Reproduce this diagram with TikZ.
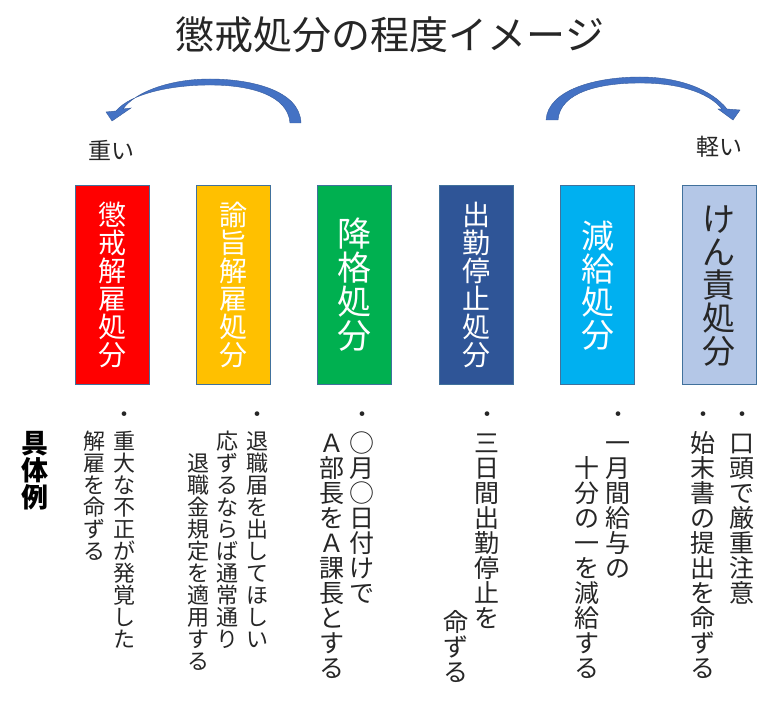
\documentclass[tikz,border=0pt]{standalone}
\usepackage{fontspec}
\setmainfont{Noto Sans CJK JP}
\usetikzlibrary{positioning}
\definecolor{myred}{RGB}{255,0,0}
\definecolor{myyellow}{RGB}{255,192,0}
\definecolor{mygreen}{RGB}{0,176,80}
\definecolor{mybluei}{RGB}{47,85,151}
\definecolor{myblueii}{RGB}{0,176,240}
\definecolor{mylav}{RGB}{180,199,231}
\definecolor{myframe}{RGB}{65,113,156}
\definecolor{myarrow}{RGB}{68,114,196}
\definecolor{mytext}{RGB}{38,38,38}
\makeatletter
\newcommand\tatesp{\hbox{}}
\newcommand\tate[1]{\vbox{\baselineskip=1em\lineskip=0pt\lineskiplimit=-100pt\tate@i#1\relax}}
\def\tate@i#1{\ifx#1\relax\else\hbox to 1em{\hss#1\hss\vrule height .88em depth .12em width 0pt}\expandafter\tate@i\fi}
\makeatother

\begin{document}
\begin{tikzpicture}[x=1pt,y=-1pt,node distance=47.4pt,outer sep=0pt,
		kaib/.style={
		  draw=myframe,
		  line width=1pt,
		  fill=myred,
		  minimum width=74pt,
		  minimum height=198pt,
		  inner sep=0pt,
		  text=white,
		  font=\fontsize{28}{28}\selectfont},
		yusb/.style={kaib,fill=myyellow},
		kokb/.style={kaib,fill=mygreen,font=\fontsize{34}{34}\selectfont},
		shub/.style={kaib,fill=mybluei},
		genb/.style={kaib,fill=myblueii,font=\fontsize{33}{33}\selectfont},
		kenb/.style={kaib,fill=mylav,text=mytext,font=\fontsize{33}{33}\selectfont},
		rei/.style={anchor=north,inner sep=0pt,text=mytext,font=\fontsize{22}{22}\selectfont},
		reil/.style={rei,font=\fontsize{25}{25}\selectfont},
		dot/.style={inner sep=0pt,text=mytext,font=\fontsize{22}{22}\selectfont},
		arr/.style={fill=myarrow,draw=myarrow!80!black,line width=0.4pt},
		]
		\fill[white] (0,0) rectangle (768,703);
		\useasboundingbox (0,0) rectangle (768,703);
		\node[text=mytext,font=\fontsize{39}{39}\selectfont] (Tit) at (390,35) {懲戒処分の程度イメージ};
		% arrows
		\draw[arr] (301,123) .. controls (300,90) and (250,79) .. (210,79)
		  .. controls (170,79) and (135,92) .. (123,109) -- (131,108) -- (112,121) -- (106,112) -- (116,111)
		  .. controls (130,94) and (170,85) .. (210,85)
		  .. controls (250,85) and (288,95) .. (290,123) -- cycle;
		\draw[arr] (546,120) .. controls (548,90) and (595,77) .. (640,77)
		  .. controls (680,77) and (712,90) .. (727,109) -- (740,110) -- (733,120) -- (718,109) -- (722,109)
		  .. controls (708,92) and (678,83) .. (640,83)
		  .. controls (600,83) and (560,92) .. (558,120) -- cycle;
		\node[text=mytext,font=\fontsize{23}{23}\selectfont] (Omo) at (111,150) {重い};
		\node[text=mytext,font=\fontsize{23}{23}\selectfont] (Kar) at (719,147) {軽い};
		% boxes
		\node[kaib] (Kai) at (112,285) {\tate{懲戒解雇処分}};
		\node[yusb,right=of Kai] (Yus) {\tate{諭旨解雇処分}};
		\node[kokb,right=of Yus] (Kok) {\tate{降格処分}};
		\node[shub,right=of Kok] (Shu) {\tate{出勤停止処分}};
		\node[genb,right=of Shu] (Gen) {\tate{減給処分}};
		\node[kenb,right=of Gen] (Ken) {\tate{けん責処分}};
		% examples
		\node[rei,font=\bfseries\fontsize{27}{27}\selectfont,text=black] (Gut) at (35,430) {\tate{具体例}};
		\node[dot] (KaiD) at (124,417) {・};
		\node[rei] (KaiA) at (124,430) {\tate{重大な不正が発覚した}};
		\node[rei] (KaiB) at (94,430) {\tate{解雇を命ずる}};
		\node[dot] (YusD) at (257,417) {・};
		\node[rei] (YusA) at (257,430) {\tate{退職届を出してほしい}};
		\node[rei] (YusB) at (227,430) {\tate{応ずるならば通常通り}};
		\node[rei] (YusC) at (198,430) {\tate{\tatesp 退職金規定を適用する}};
		\node[dot] (KokD) at (362,417) {・};
		\node[reil] (KokA) at (362,430) {\tate{○月○日付けで}};
		\node[reil] (KokB) at (332,430) {\tate{Ａ部長をＡ課長とする}};
		\node[dot] (ShuD) at (487,417) {・};
		\node[reil] (ShuA) at (487,430) {\tate{三日間出勤停止を}};
		\node[reil] (ShuB) at (456,434) {\tate{\tatesp\tatesp\tatesp\tatesp\tatesp\tatesp\tatesp 命ずる}};
		\node[dot] (GenD) at (618,417) {・};
		\node[reil] (GenA) at (618,430) {\tate{一月間給与の}};
		\node[reil] (GenB) at (587,430) {\tate{\tatesp 十分の一を減給する}};
		\node[dot] (KenD) at (742,417) {・};
		\node[reil] (KenA) at (742,430) {\tate{口頭で厳重注意}};
		\node[dot] (KenE) at (703,417) {・};
		\node[reil] (KenB) at (703,430) {\tate{始末書の提出を命ずる}};
		\end{tikzpicture}
\end{document}
